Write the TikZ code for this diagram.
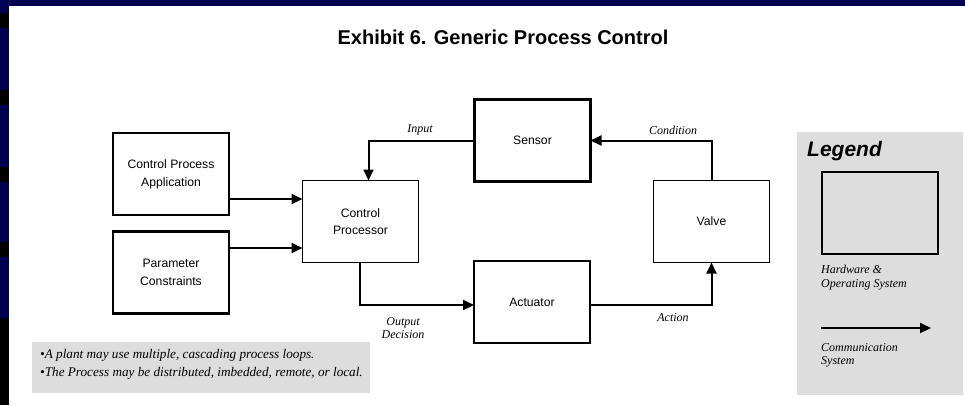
\documentclass[tikz,border=0pt]{standalone}
\usepackage{fontspec}
\setmainfont{Liberation Serif}
\setsansfont{Liberation Sans}
\usetikzlibrary{arrows.meta}
\definecolor{slidenavy}{RGB}{0,0,80}
\definecolor{panelgray}{RGB}{221,221,221}

\begin{document}
\begin{tikzpicture}[x=1pt,y=-1pt,
    hwbox/.style={draw, line width=2.2pt, minimum width=116pt, minimum height=82pt,
      inner sep=0pt, outer sep=0pt, align=center, font=\sffamily\fontsize{12.2}{17.7}\selectfont},
    cpubox/.style={hwbox, line width=1pt},
    flow/.style={line width=2pt, -{Triangle[length=11pt,width=10pt]}},
    lbl/.style={font=\itshape\fontsize{12}{13.5}\selectfont, align=center, inner sep=0pt},
    note/.style={lbl, font=\itshape\fontsize{13.2}{15}\selectfont, anchor=west}]
    \useasboundingbox (0,0) rectangle (965,405);
    % slide frame
    \fill[slidenavy] (0,0) rectangle (965,6);
    \fill[slidenavy] (0,0) rectangle (9,405);
    \foreach \y in {13,90,167,242}
        \fill[black] (0,\y) rectangle (9,\y+15);
    \fill[black] (0,318) rectangle (9,405);
    \node[font=\sffamily\bfseries\fontsize{20}{23}\selectfont] (title) at (503,37) {Exhibit 6. Generic Process Control};
    % boxes
    \node[hwbox] (app) at (171,174) {Control Process\\Application};
    \node[hwbox] (param) at (171,272.5) {Parameter\\Constraints};
    \node[cpubox] (ctrl) at (360.5,221.5) {Control\\Processor};
    \node[hwbox] (sensor) at (532.5,140.5) {Sensor};
    \node[hwbox] (act) at (532,302) {Actuator};
    \node[cpubox] (valve) at (711.5,221.5) {Valve};
    % loop
    \draw[flow] (app.east |- 0,199) -- (ctrl.west |- 0,199);
    \draw[flow] (param.east |- 0,248) -- (ctrl.west |- 0,248);
    \draw[flow] (sensor.west) -| ([xshift=8pt]ctrl.north);
    \draw[flow] ([xshift=-0.5pt]ctrl.south) |- ([yshift=-3pt]act.west);
    \draw[flow] ([yshift=-3pt]act.east) -| (valve.south);
    \draw[flow] (valve.north) |- (sensor.east);
    \node[lbl] (input) at (420,130) {Input};
    \node[lbl] (cond) at (673,130) {Condition};
    \node[lbl] (outdec) at (403,328) {Output\\Decision};
    \node[lbl] (action) at (673,318) {Action};
    % legend
    \fill[panelgray] (797,132) rectangle (963,395);
    \node[font=\sffamily\bfseries\itshape\fontsize{21}{24}\selectfont, anchor=west, inner sep=0pt] (legtitle) at (807,151) {Legend};
    \node[draw, line width=2pt, minimum width=116pt, minimum height=82pt] (legbox) at (880,213) {};
    \node[lbl, anchor=north west, align=left] (leghw) at (821,265) {Hardware \&\\Operating System};
    \coordinate (legA) at (821,328);
    \coordinate (legB) at (931,328);
    \draw[flow] (legA) -- (legB);
    \node[lbl, anchor=north west, align=left] (legcom) at (821,343) {Communication\\System};
    % notes
    \fill[panelgray] (32,342) rectangle (370,393);
    \node[note] (note1) at (40,355) {•A plant may use multiple, cascading process loops.};
    \node[note] (note2) at (40,373) {•The Process may be distributed, imbedded, remote, or local.};
\end{tikzpicture}
\end{document}
